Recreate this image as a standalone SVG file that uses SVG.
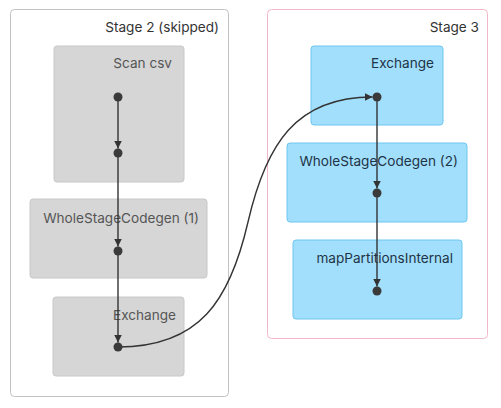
<svg xmlns="http://www.w3.org/2000/svg" width="501" height="408" viewBox="0 0 501 408">
<style>
text{font-family:Inter,"Liberation Sans",sans-serif;font-size:13.6px;text-anchor:end}
.g rect{fill:#d6d6d6;stroke:#c8c8c8;stroke-width:1}
.g text{fill:#555}
.b rect{fill:#a2dffd;stroke:#6cc6ef;stroke-width:1}
.b text{fill:#1e3446}
.e{fill:none;stroke:#333;stroke-width:1.4}
.d{fill:#3a3a3a}
</style>
<defs>
<marker id="ah" viewBox="0 0 10 10" refX="10" refY="5" markerWidth="7.5" markerHeight="7.5" markerUnits="userSpaceOnUse" orient="auto">
<path d="M0,0 L10,5 L0,10 z" fill="#333"/>
</marker>
</defs>
<g id="stage2">
<rect x="10.5" y="9.5" width="218" height="387" rx="4" fill="#fff" stroke="#c2c2c2"/>
<text x="219" y="32" fill="#333">Stage 2 (skipped)</text>
</g>
<g id="stage3">
<rect x="267.5" y="9.5" width="220" height="329" rx="4" fill="#fff" stroke="#f2b8c8"/>
<text x="479" y="32" fill="#333">Stage 3</text>
</g>
<g id="scan" class="g">
<rect x="54" y="46" width="130" height="136" rx="3"/>
<text x="172" y="68">Scan csv</text>
</g>
<g id="wsc1" class="g">
<rect x="30" y="199" width="177" height="79" rx="3"/>
<text x="199" y="223">WholeStageCodegen (1)</text>
</g>
<g id="exch1" class="g">
<rect x="53" y="297" width="131" height="79" rx="3"/>
<text x="176" y="320">Exchange</text>
</g>
<g id="exch2" class="b">
<rect x="311" y="46" width="132" height="79" rx="3"/>
<text x="434" y="68">Exchange</text>
</g>
<g id="wsc2" class="b">
<rect x="287" y="143" width="180" height="79" rx="3"/>
<text x="458" y="166">WholeStageCodegen (2)</text>
</g>
<g id="mpi" class="b">
<rect x="293" y="240" width="169" height="79" rx="3"/>
<text x="453" y="263">mapPartitionsInternal</text>
</g>
<g id="edges">
<path class="e" d="M118,97 L118,148.5" marker-end="url(#ah)"/>
<path class="e" d="M118,153 L118,246.5" marker-end="url(#ah)"/>
<path class="e" d="M118,251 L118,342.5" marker-end="url(#ah)"/>
<path class="e" d="M118,347 C200,347 230,300 248,222 C266,144 296,97 372.5,97" marker-end="url(#ah)"/>
<path class="e" d="M377,97 L377,188.5" marker-end="url(#ah)"/>
<path class="e" d="M377,193 L377,286.5" marker-end="url(#ah)"/>
</g>
<g id="dots" class="d">
<circle cx="118" cy="97" r="4.5"/>
<circle cx="118" cy="153" r="4.5"/>
<circle cx="118" cy="251" r="4.5"/>
<circle cx="118" cy="347" r="4.5"/>
<circle cx="377" cy="97" r="4.5"/>
<circle cx="377" cy="193" r="4.5"/>
<circle cx="377" cy="291" r="4.5"/>
</g>
</svg>
